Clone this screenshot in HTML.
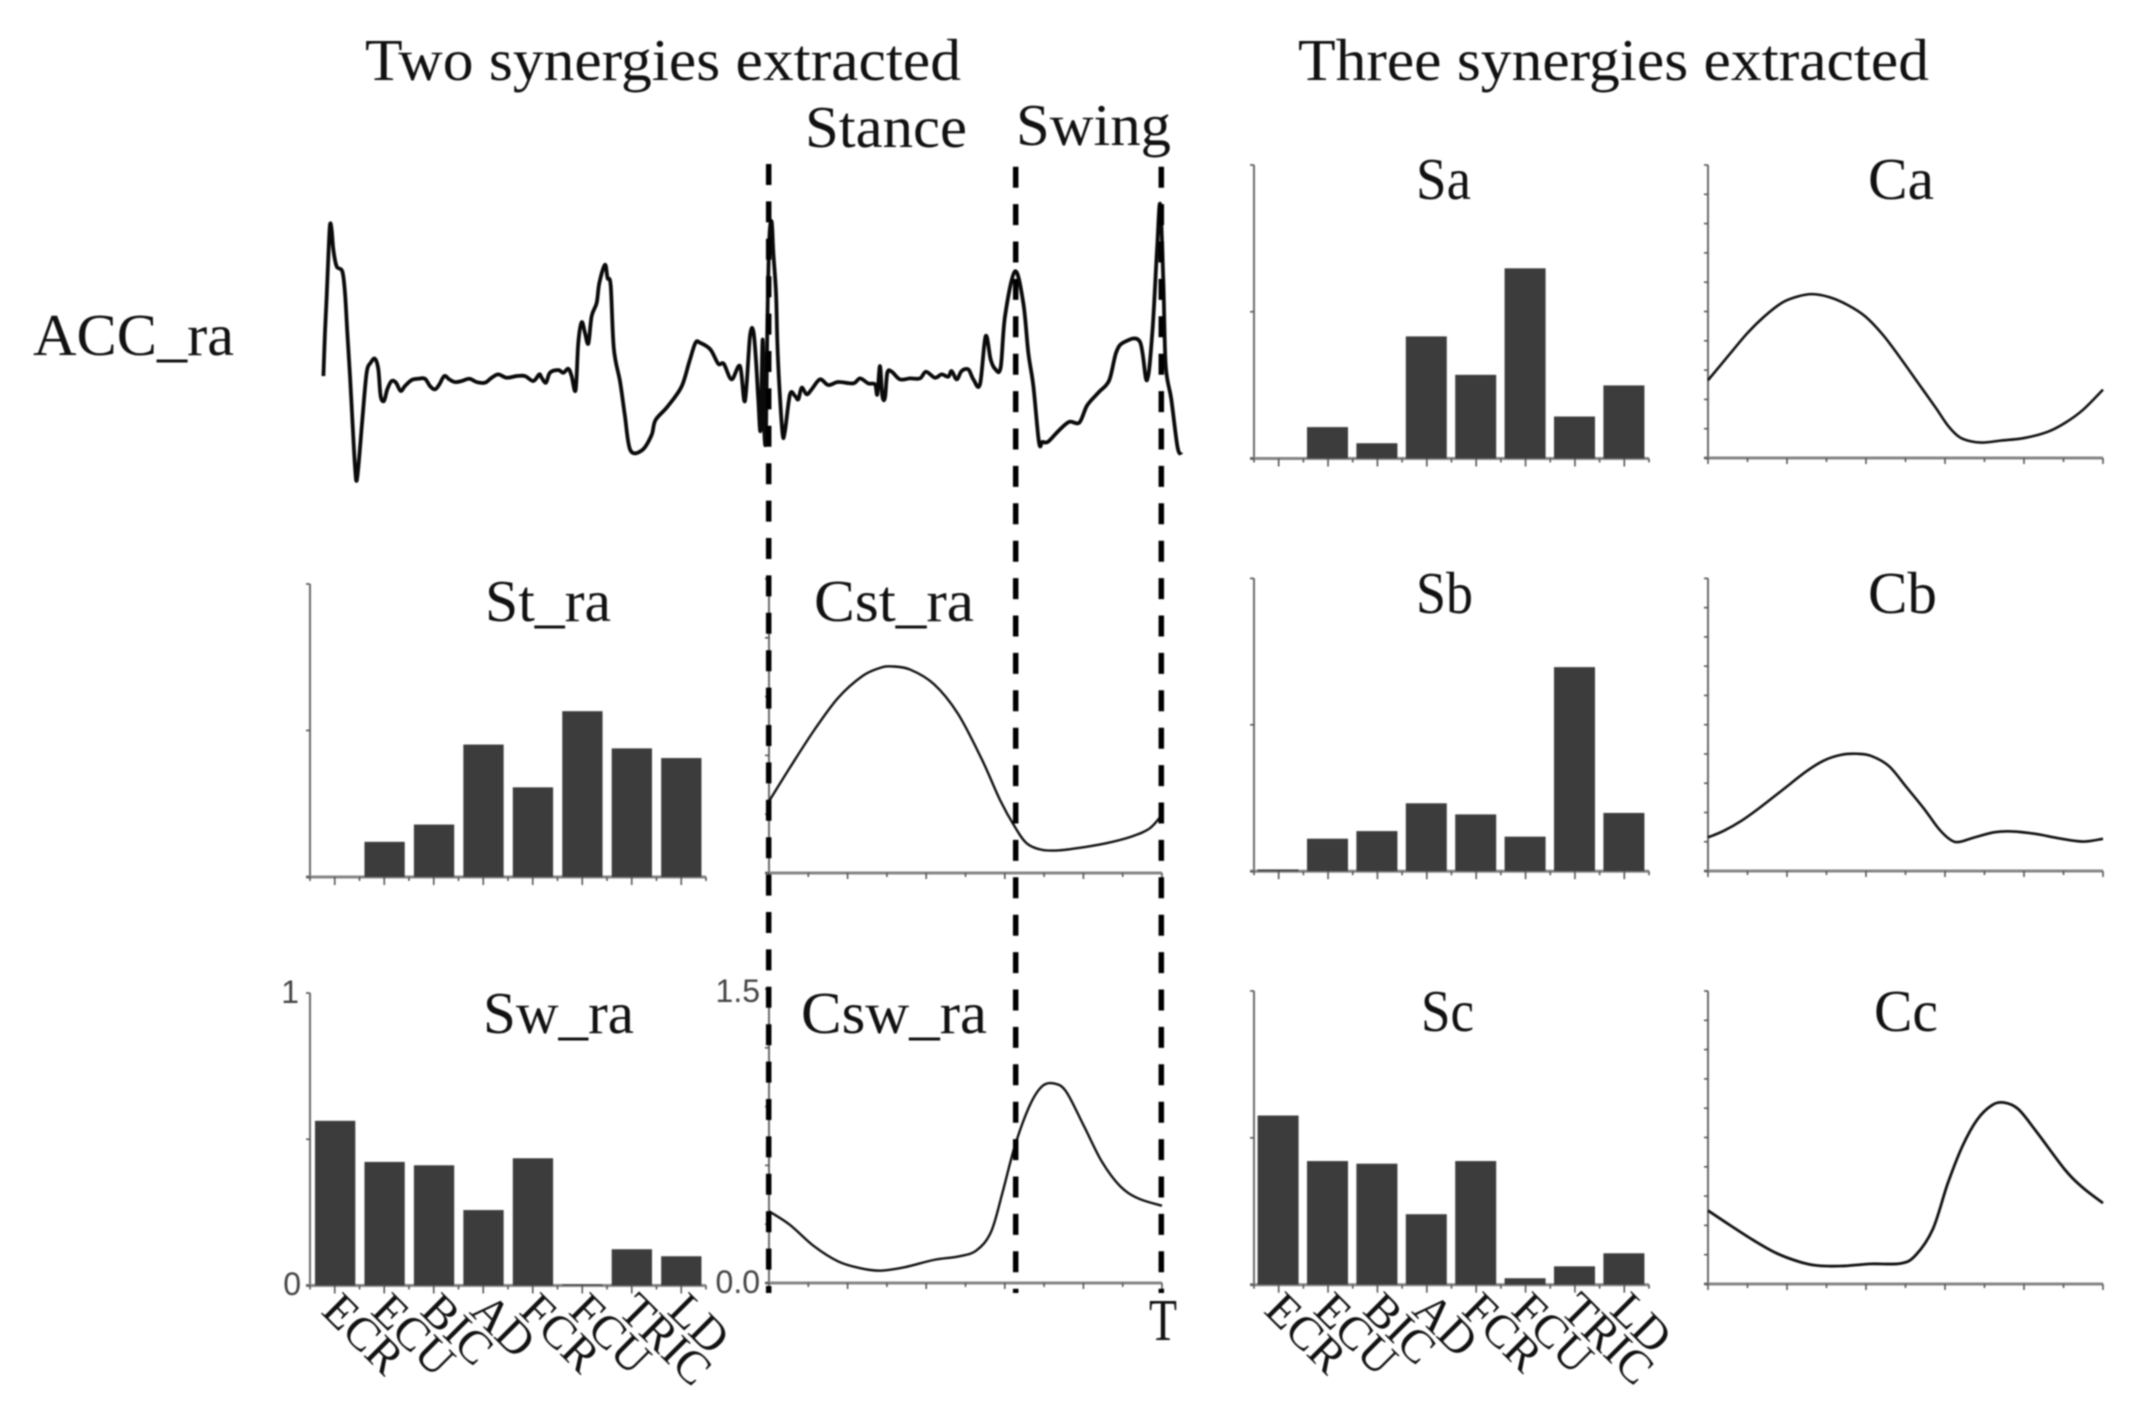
<!DOCTYPE html>
<html lang="en">
<head>
<meta charset="utf-8">
<title>Muscle synergies extracted</title>
<style>
html,body{margin:0;padding:0;background:#fff;}
svg{display:block;filter:blur(0.7px);}
text.serif{font-family:"Liberation Serif",serif;fill:#111;}
text.sans{font-family:"Liberation Sans",sans-serif;fill:#444;font-size:32px;}
</style>
</head>
<body>
<svg id="figure" xmlns="http://www.w3.org/2000/svg" width="2152" height="1405" viewBox="0 0 2152 1405">
  <rect x="0" y="0" width="2152" height="1405" fill="#fff"/>
  <g id="marks"></g>
  <g font-size="59">
    <text class="serif" x="365" y="80" textLength="596" lengthAdjust="spacingAndGlyphs">Two synergies extracted</text>
    <text class="serif" x="1298" y="80" textLength="631" lengthAdjust="spacingAndGlyphs">Three synergies extracted</text>
    <text class="serif" x="805" y="147" textLength="162" lengthAdjust="spacingAndGlyphs">Stance</text>
    <text class="serif" x="1016" y="145" textLength="155" lengthAdjust="spacingAndGlyphs">Swing</text>
    <text class="serif" x="33" y="355" textLength="201" lengthAdjust="spacingAndGlyphs">ACC_ra</text>
    <text class="serif" x="485" y="621" textLength="126" lengthAdjust="spacingAndGlyphs">St_ra</text>
    <text class="serif" x="814" y="621" textLength="160" lengthAdjust="spacingAndGlyphs">Cst_ra</text>
    <text class="serif" x="483" y="1033" textLength="151" lengthAdjust="spacingAndGlyphs">Sw_ra</text>
    <text class="serif" x="801" y="1033" textLength="186" lengthAdjust="spacingAndGlyphs">Csw_ra</text>
    <text class="serif" x="1416" y="199" textLength="55" lengthAdjust="spacingAndGlyphs">Sa</text>
    <text class="serif" x="1868" y="199" textLength="66" lengthAdjust="spacingAndGlyphs">Ca</text>
    <text class="serif" x="1416" y="613" textLength="57" lengthAdjust="spacingAndGlyphs">Sb</text>
    <text class="serif" x="1868" y="613" textLength="69" lengthAdjust="spacingAndGlyphs">Cb</text>
    <text class="serif" x="1421" y="1031" textLength="53" lengthAdjust="spacingAndGlyphs">Sc</text>
    <text class="serif" x="1874" y="1031" textLength="64" lengthAdjust="spacingAndGlyphs">Cc</text>
    <text class="serif" x="1149" y="1340" textLength="28" lengthAdjust="spacingAndGlyphs">T</text>
  </g>
  <g>
    <text class="sans" x="299" y="1003" text-anchor="end">1</text>
    <text class="sans" x="301" y="1295" text-anchor="end">0</text>
    <text class="sans" x="760" y="1002" text-anchor="end">1.5</text>
    <text class="sans" x="760" y="1293" text-anchor="end">0.0</text>
  </g>
</svg>
<script>
// Muscle categories
const muscleCategories = ["ECR","ECU","BIC","AD","FCR","FCU","TRIC","LD"];

// Bar series (weight, 0..1)
const stValues = [0, 0.12, 0.179, 0.452, 0.306, 0.566, 0.439, 0.406];
const swValues = [0.563, 0.4225, 0.411, 0.258, 0.435, 0.004, 0.124, 0.10];
const saValues = [0, 0.107, 0.052, 0.416, 0.285, 0.648, 0.143, 0.249];
const sbValues = [0.006, 0.111, 0.137, 0.232, 0.194, 0.118, 0.697, 0.199];
const scValues = [0.576, 0.421, 0.412, 0.240, 0.421, 0.022, 0.0625, 0.107];

// Activation curves: time (% of cycle), amplitude (0..1.5)
const cstTime = [0,5.3,11.5,17.6,23.7,28.2,31.3,35.9,42,48.1,54.2,58.8,62.6,65.6,69.5,74,80.2,86.3,92.4,96.9,100];
const cstAmp = [0.366,0.537,0.729,0.894,1.004,1.046,1.054,1.038,0.963,0.812,0.578,0.372,0.234,0.151,0.118,0.116,0.132,0.154,0.187,0.228,0.297];
const cswTime = [0,5.3,11.5,17.6,22.9,28.2,34.4,42,48.1,52.7,56.5,59.5,62.6,66.4,69.5,72.5,75.6,80.2,84.7,89.3,93.9,100];
const cswAmp = [0.366,0.297,0.187,0.110,0.077,0.063,0.080,0.118,0.135,0.165,0.261,0.468,0.702,0.908,1.004,1.018,0.977,0.798,0.619,0.495,0.432,0.394];
const caTime = [0,5.5,10,14.5,18.9,22.7,26.4,30.8,35.3,39.8,44.3,48.7,53.2,57.7,60.7,63.6,66.6,69.6,74.1,80,86,90.5,94.9,100];
const caAmp = [0.398,0.532,0.640,0.729,0.797,0.827,0.839,0.823,0.784,0.725,0.630,0.512,0.384,0.256,0.167,0.108,0.085,0.079,0.089,0.102,0.134,0.181,0.246,0.350];
const cbTime = [0,4,8.5,13,18.9,24.9,29.4,33.8,37.6,41.3,45.8,50.2,54.7,58.4,61.4,63.6,67.4,72.6,77,83,89,94.9,100];
const cbAmp = [0.172,0.206,0.258,0.323,0.416,0.511,0.567,0.596,0.601,0.590,0.538,0.431,0.319,0.217,0.160,0.149,0.172,0.199,0.203,0.190,0.167,0.151,0.165];
const ccTime = [0,5.5,11.5,17.4,23.4,27.9,33.8,41.3,48.7,52.5,56.9,60.7,64.4,68.1,71.8,74.8,78.5,83,90.5,94.9,100];
const ccAmp = [0.376,0.302,0.224,0.157,0.112,0.094,0.092,0.103,0.105,0.146,0.280,0.515,0.705,0.840,0.914,0.929,0.896,0.784,0.582,0.493,0.414];

// Acceleration trace: sample index, amplitude (arbitrary units)
const accTime = [0,2,4,6.3,8.4,10.5,12.7,16.9,24.1,27.5,30.5,33.9,37.3,40.2,42.4,45.8,50,55.1,60.2,65.7,70,72.9,77.2,81.4,86.9,92.5,98.4,103.9,112.4,120.9,129.4,135.8,142.2,147.7,154,160.4,167.6,176.1,185.9,195.2,205.8,214.3,222.8,233.4,246.2,256.8,267.4,275,278,283.5,288.6,299.2,305.6,312,316.2,321.3,324.7,329,333.2,337.5,341.7,348.1,351.5,358.7,362,366,370,378,384,391,406,418,423,438,456,466,474,480,493,503,510,520,530.7,537,543.4,547.7,551,554,557,559.6,561.7,563.8,565.5,568,571,573.2,576.6,578.3,580.8,585,588,594.4,600.8,605,609.3,615.6,622,632.6,643.2,656,675,683.6,694,702.7,705.6,709,712,715.4,718.4,724,734.5,747.2,760,767.6,779,787.6,796,800.3,806.7,813,821.6,828,836.4,843.6,850,855.5,862.7,868.3,881,891.6,898,904.4,911.6,916,923,936,950,963,973,988,1001,1010,1020,1040,1049,1056,1062,1066,1070,1073,1080,1088,1093];
const accAmp = [318,448,548,678,773,758,698,648,633,568,448,318,168,48,3,78,198,328,358,370,338,258,243,278,303,298,273,288,306,310,310,288,278,293,318,308,300,303,310,300,298,313,323,313,318,318,303,323,313,298,328,336,328,340,318,276,418,480,448,416,498,538,598,653,613,590,400,300,200,95,95,140,185,225,285,360,418,418,398,355,355,308,348,243,438,453,368,248,158,428,153,143,468,728,783,688,568,418,288,143,153,263,258,248,283,263,278,308,291,300,296,311,296,293,263,348,258,253,328,331,308,311,311,331,313,323,316,333,308,333,338,308,293,438,368,340,343,498,633,538,388,288,118,120,120,152,180,178,230,270,305,390,420,422,305,450,700,835,600,350,250,105,82];

const SVG_NS = "http://www.w3.org/2000/svg";
const marks = document.getElementById("marks");
const AXIS_COLOR = "#6a6a6a";

function line(x1, y1, x2, y2, stroke, width) {
  const el = document.createElementNS(SVG_NS, "line");
  el.setAttribute("x1", x1);
  el.setAttribute("y1", y1);
  el.setAttribute("x2", x2);
  el.setAttribute("y2", y2);
  el.setAttribute("stroke", stroke);
  el.setAttribute("stroke-width", width);
  marks.appendChild(el);
  return el;
}

function smoothPath(xs, ys) {
  let d = "M" + xs[0].toFixed(2) + " " + ys[0].toFixed(2);
  for (let i = 0; i < xs.length - 1; i++) {
    const x0 = xs[Math.max(i - 1, 0)], y0 = ys[Math.max(i - 1, 0)];
    const x1 = xs[i], y1 = ys[i], x2 = xs[i + 1], y2 = ys[i + 1];
    const x3 = xs[Math.min(i + 2, xs.length - 1)], y3 = ys[Math.min(i + 2, ys.length - 1)];
    d += " C" + (x1 + (x2 - x0) / 6).toFixed(2) + " " + (y1 + (y2 - y0) / 6).toFixed(2) +
         " " + (x2 - (x3 - x1) / 6).toFixed(2) + " " + (y2 - (y3 - y1) / 6).toFixed(2) +
         " " + x2.toFixed(2) + " " + y2.toFixed(2);
  }
  return d;
}

function drawBarPanel(name, values, axisX, endX, topY, baseY, firstLeft, step, barW, showLabels) {
  const yScale = v => baseY - v * (baseY - topY);
  const xScale = i => firstLeft + i * step;
  const yAxis = line(axisX, topY, axisX, baseY, AXIS_COLOR, 2);
  
  
  const xAxis = line(axisX - 4, baseY, endX, baseY, "#858585", 3);
  
  
  const tickStep = (endX - axisX) / 16;
  for (let k = 0; k <= 16; k++) {
    const t = line(axisX + k * tickStep, baseY, axisX + k * tickStep, baseY + (k % 2 ? 8 : 4), "#555", 1.6);
    
    
  }
  for (let k = 0; k <= 2; k++) {
    const yy = topY + k * (baseY - topY) / 2;
    const t = line(axisX - 4, yy, axisX, yy, "#555", 1.6);
    
    
  }
  values.forEach((v, i) => {
    const r = document.createElementNS(SVG_NS, "rect");
    
    
    r.setAttribute("x", xScale(i));
    r.setAttribute("y", yScale(v));
    r.setAttribute("width", barW);
    r.setAttribute("height", baseY - yScale(v));
    r.setAttribute("fill", "#3c3c3c");
    marks.appendChild(r);
  });
  if (showLabels) {
    muscleCategories.forEach((c, i) => {
      const tx = firstLeft + 5 + i * step;
      const ty = baseY + 27;
      const el = document.createElementNS(SVG_NS, "text");
      el.setAttribute("class", "serif");
      
      
      el.setAttribute("font-size", "47");
      el.setAttribute("transform", "translate(" + tx + " " + ty + ") rotate(45)");
      el.textContent = c;
      marks.appendChild(el);
    });
  }
}

function drawCurvePanel(name, times, amps, axisX, endX, topY, baseY, yDivs, strokeW) {
  const xScale = t => axisX + t / 100 * (endX - axisX);
  const yScale = v => baseY - v / 1.5 * (baseY - topY);
  const yAxis = line(axisX, topY, axisX, baseY, AXIS_COLOR, 2);
  
  
  const xAxis = line(axisX - 4, baseY, endX, baseY, "#858585", 3);
  
  
  for (let k = 0; k <= 10; k++) {
    const xx = axisX + k * (endX - axisX) / 10;
    const t = line(xx, baseY, xx, baseY + (k % 2 ? 4 : 6), "#555", 1.6);
    
    
  }
  for (let k = 0; k <= yDivs; k++) {
    const yy = topY + k * (baseY - topY) / yDivs;
    const t = line(axisX - 4, yy, axisX, yy, "#555", 1.6);
    
    
  }
  const p = document.createElementNS(SVG_NS, "path");
  
  
  p.setAttribute("d", smoothPath(times.map(xScale), amps.map(yScale)));
  p.setAttribute("fill", "none");
  p.setAttribute("stroke", "#111");
  p.setAttribute("stroke-width", strokeW);
  marks.appendChild(p);
}

// Bar panels
drawBarPanel("st", stValues, 310, 706, 584, 877, 315, 49.45, 40.3, false);
drawBarPanel("sw", swValues, 310, 706, 993, 1285.5, 315, 49.45, 40.3, true);
drawBarPanel("sa", saValues, 1254, 1649, 165, 458.5, 1257.6, 49.4, 41, false);
drawBarPanel("sb", sbValues, 1254, 1649, 578.4, 871.2, 1257.6, 49.4, 41, false);
drawBarPanel("sc", scValues, 1254, 1649, 991, 1284.7, 1257.6, 49.4, 41, true);

// Curve panels
drawCurvePanel("cst", cstTime, cstAmp, 769, 1162, 579, 873, 5, 2.4);
drawCurvePanel("csw", cswTime, cswAmp, 769, 1162, 989, 1283, 5, 2.4);
drawCurvePanel("ca", caTime, caAmp, 1708, 2103, 165, 458, 10, 2.6);
drawCurvePanel("cb", cbTime, cbAmp, 1708, 2103, 578.4, 871, 10, 2.6);
drawCurvePanel("cc", ccTime, ccAmp, 1708, 2103, 991, 1284, 10, 2.8);

// Acceleration trace
const accX = t => 323.4 + t * 0.785;
const accY = a => 481.7 - a * 0.3322;
const accPath = document.createElementNS(SVG_NS, "path");


accPath.setAttribute("d", smoothPath(accTime.map(accX), accAmp.map(accY)));
accPath.setAttribute("fill", "none");
accPath.setAttribute("stroke", "#0a0a0a");
accPath.setAttribute("stroke-width", "3.8");
accPath.setAttribute("stroke-linejoin", "round");
marks.appendChild(accPath);

// Phase boundaries
const phaseDash1 = line(768.7, 164, 768.7, 1293, "#000", 5.5);


phaseDash1.setAttribute("stroke-dasharray", "21 16.4");
const phaseDash2 = line(1015.7, 166.7, 1015.7, 1293, "#000", 5.5);


phaseDash2.setAttribute("stroke-dasharray", "21 16.4");
const phaseDash3 = line(1161.3, 166.7, 1161.3, 1293, "#000", 5.5);


phaseDash3.setAttribute("stroke-dasharray", "21 16.4");
</script>
</body>
</html>
